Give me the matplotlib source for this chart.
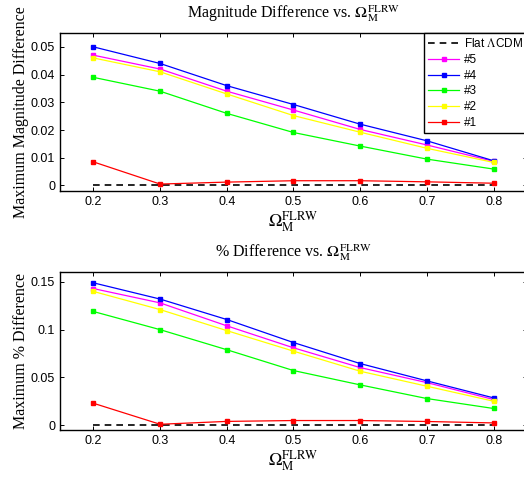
import numpy as np
import matplotlib
matplotlib.use("Agg")
import matplotlib.pyplot as plt

plt.rcParams['mathtext.fontset'] = 'stix'

# Omega_M^FLRW values
omega = [0.2, 0.3, 0.4, 0.5, 0.6, 0.7, 0.8]

# Maximum magnitude difference
mag_flat = [0, 0, 0, 0, 0, 0, 0]
mag_5 = [0.047, 0.042, 0.034, 0.0272, 0.0202, 0.0146, 0.0087]
mag_4 = [0.050, 0.044, 0.036, 0.0292, 0.0221, 0.0161, 0.0089]
mag_3 = [0.039, 0.034, 0.026, 0.0191, 0.0142, 0.0095, 0.0059]
mag_2 = [0.046, 0.041, 0.033, 0.0252, 0.0192, 0.0134, 0.0083]
mag_1 = [0.0085, 0.0005, 0.0012, 0.0017, 0.0017, 0.0013, 0.0008]

# Maximum % difference
pct_flat = [0, 0, 0, 0, 0, 0, 0]
pct_5 = [0.143, 0.128, 0.104, 0.081, 0.0603, 0.0446, 0.0269]
pct_4 = [0.149, 0.132, 0.1106, 0.0865, 0.0645, 0.0464, 0.0286]
pct_3 = [0.119, 0.100, 0.079, 0.0572, 0.0422, 0.0279, 0.0175]
pct_2 = [0.140, 0.121, 0.099, 0.0775, 0.0565, 0.0408, 0.0251]
pct_1 = [0.023, 0.001, 0.004, 0.0049, 0.0049, 0.0039, 0.0024]

labels = ['#5', '#4', '#3', '#2', '#1']
colors = ['#ff00ff', '#0000ff', '#00ff00', '#ffff00', '#ff0000']

serif = 'Liberation Serif'
sans = 'Liberation Sans'
xlab = r'$\mathrm{\Omega_M^{FLRW}}$'

fig = plt.figure(figsize=(5.24, 4.79), dpi=100)
ax1 = fig.add_axes([0.1145, 0.6013, 0.8912, 0.3298])
ax2 = fig.add_axes([0.1145, 0.1023, 0.8912, 0.3292])


def panel(ax, flat, series, title, ylabel, ylim, yticks, yticklabels):
    ax.plot(omega, flat, 'k--', lw=1.2, dashes=(4, 3), label=r'Flat $\Lambda$CDM')
    for s, lab, c in zip(series, labels, colors):
        ax.plot(omega, s, '-s', color=c, lw=0.9, ms=3.5, label=lab)
    ax.set_xlim(0.15, 0.85)
    ax.set_ylim(*ylim)
    ax.set_xticks(omega)
    ax.set_xticklabels(['0.2', '0.3', '0.4', '0.5', '0.6', '0.7', '0.8'],
                       family=sans, fontsize=9)
    ax.set_yticks(yticks)
    ax.set_yticklabels(yticklabels, family=sans, fontsize=9)
    ax.tick_params(direction='in', top=True, right=True, length=3, width=0.7)
    for sp in ax.spines.values():
        sp.set_linewidth(1.0)
    ax.set_title(title, family=serif, fontsize=11.5, pad=11)
    ax.set_ylabel(ylabel, family=serif, fontsize=11.5, labelpad=1)
    ax.set_xlabel(xlab, fontsize=13, labelpad=1)


panel(ax1, mag_flat, [mag_5, mag_4, mag_3, mag_2, mag_1],
      r'Magnitude Difference vs. $\mathrm{\Omega_M^{FLRW}}$',
      'Maximum Magnitude Difference', (-0.002, 0.055),
      [0, 0.01, 0.02, 0.03, 0.04, 0.05],
      ['0', '0.01', '0.02', '0.03', '0.04', '0.05'])

panel(ax2, pct_flat, [pct_5, pct_4, pct_3, pct_2, pct_1],
      r'% Difference vs. $\mathrm{\Omega_M^{FLRW}}$',
      'Maximum % Difference', (-0.005, 0.16),
      [0, 0.05, 0.1, 0.15],
      ['0', '0.05', '0.1', '0.15'])

leg = ax1.legend(loc='upper right', prop={'family': sans, 'size': 8.5},
                 fancybox=False, edgecolor='black', framealpha=1,
                 borderaxespad=0, handlelength=2.6, handletextpad=0.4,
                 labelspacing=0.32, borderpad=0.35)
leg.get_frame().set_linewidth(1.0)

fig.savefig('out.png', dpi=100)
